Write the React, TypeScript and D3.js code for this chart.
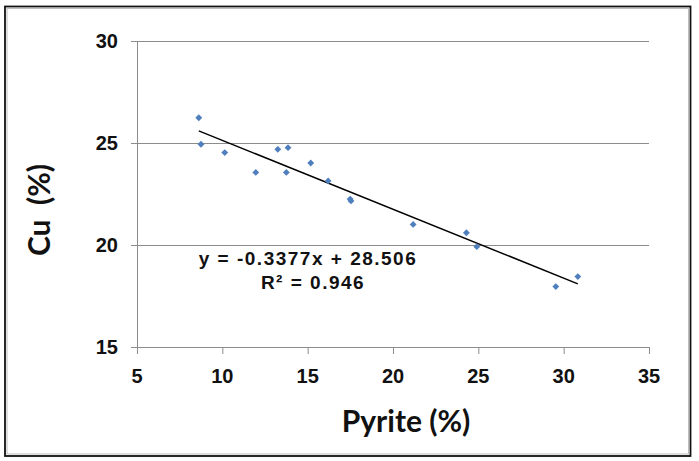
import { useMemo } from 'react';
import * as d3 from 'd3';

const pyrite = [8.62, 8.75, 10.14, 11.96, 13.25, 13.85, 13.75, 15.18, 16.2, 17.49, 17.54, 21.18, 24.3, 24.91, 29.54, 30.83];
const cu = [26.24, 24.94, 24.53, 23.56, 24.69, 24.77, 23.56, 24.02, 23.14, 22.25, 22.16, 21.01, 20.6, 19.92, 17.96, 18.45];
const xTicks = [5, 10, 15, 20, 25, 30, 35];
const yTicks = [15, 20, 25, 30];
const slope = -0.3377;
const intercept = 28.506;
const eqLabel = 'y = -0.3377x + 28.506';
const r2Label = 'R² = 0.946';

const W = 699;
const H = 461;
const plot = { left: 137, right: 649, top: 41, bottom: 347 };

export default function App() {
  const x = useMemo(() => d3.scaleLinear().domain([5, 35]).range([plot.left, plot.right]), []);
  const y = useMemo(() => d3.scaleLinear().domain([15, 30]).range([plot.bottom, plot.top]), []);

  const xMin = d3.min(pyrite)!;
  const xMax = d3.max(pyrite)!;
  const trend = d3.line<number>().x((v) => x(v)).y((v) => y(slope * v + intercept))([xMin, xMax])!;
  // square diamond marker, like the spreadsheet one
  const diamond = d3.symbol(d3.symbolDiamond2, 30)()!;

  const tickFont = { fontFamily: '"Liberation Sans", Arial, sans-serif', fontWeight: 700, fontSize: 20 };
  const eqFont = { fontFamily: '"Liberation Sans", Arial, sans-serif', fontWeight: 700, fontSize: 19, letterSpacing: 1.5 };
  const titleFont = { fontFamily: 'Lato, "Open Sans", sans-serif', fontWeight: 700, fontSize: 30, whiteSpace: 'pre' as const };

  return (
    <svg width={W} height={H} style={{ position: 'absolute', left: 0, top: 0, background: '#fff' }}>
      <rect x={0} y={0} width={W} height={H} fill="#fff" />
      <rect x={5} y={6.5} width={685.5} height={449.5} fill="none" stroke="#111" strokeWidth={1.8} />
      <rect x={7} y={8.5} width={681.5} height={445.5} fill="none" stroke="#bdbdbd" strokeWidth={1} />

      {yTicks.filter((t) => t > 15).map((t) => (
        <line key={`g${t}`} x1={plot.left} x2={plot.right} y1={y(t) + 0.5} y2={y(t) + 0.5} stroke="#8c8c8c" strokeWidth={1} />
      ))}
      <line x1={plot.left + 0.5} x2={plot.left + 0.5} y1={plot.top} y2={plot.bottom} stroke="#8c8c8c" />
      <line x1={plot.left} x2={plot.right} y1={plot.bottom + 0.5} y2={plot.bottom + 0.5} stroke="#8c8c8c" />

      {yTicks.map((t) => (
        <g key={`y${t}`}>
          <line x1={plot.left - 6} x2={plot.left} y1={y(t) + 0.5} y2={y(t) + 0.5} stroke="#8c8c8c" />
          <text x={118} y={y(t) + 7} textAnchor="end" style={tickFont} fill="#111">{t}</text>
        </g>
      ))}
      {xTicks.map((t) => (
        <g key={`x${t}`}>
          <line x1={x(t) + 0.5} x2={x(t) + 0.5} y1={plot.bottom} y2={plot.bottom + 7} stroke="#8c8c8c" />
          <text x={x(t)} y={383} textAnchor="middle" style={tickFont} fill="#111">{t}</text>
        </g>
      ))}

      <path d={trend} fill="none" stroke="#000" strokeWidth={1.5} />

      {pyrite.map((p, i) => (
        <path key={i} d={diamond} transform={`translate(${x(p)},${y(cu[i])})`} fill="#4f7fbd" />
      ))}

      <text x={308} y={265} textAnchor="middle" fill="#111" style={eqFont}>{eqLabel}</text>
      <text x={313} y={289} textAnchor="middle" fill="#111" style={eqFont}>{r2Label}</text>

      <text x={406} y={432} textAnchor="middle" fill="#111" style={titleFont}>Pyrite (%)</text>
      <text transform="translate(50,210) rotate(-90)" textAnchor="middle" fill="#111" style={titleFont}>{'Cu  (%)'}</text>
    </svg>
  );
}
